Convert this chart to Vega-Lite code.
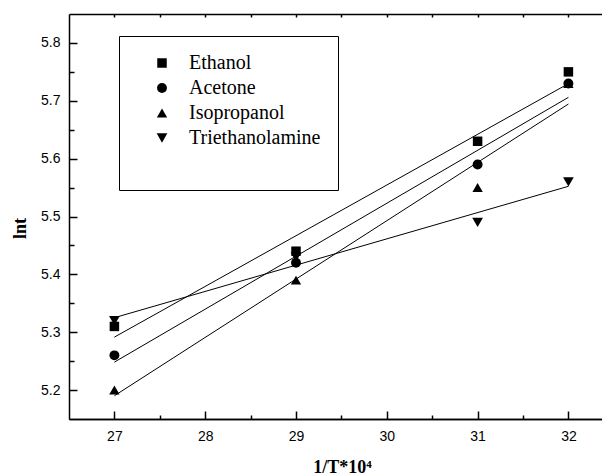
{
  "$schema": "https://vega.github.io/schema/vega-lite/v6.json",
  "width": 536,
  "height": 405,
  "autosize": {"type": "none"},
  "padding": {"left": 69, "top": 14, "right": -3, "bottom": 56},
  "background": "white",
  "view": {"stroke": "transparent", "strokeWidth": 0},
  "config": {
    "view": {"stroke": "transparent", "strokeWidth": 0},
    "axis": {"grid": false, "domainColor": "black", "tickColor": "black", "labelColor": "black", "titleColor": "black", "domainWidth": 1.5, "tickWidth": 1.5, "labelFont": "Liberation Sans", "labelFontSize": 14, "titleFont": "Liberation Serif", "titleFontWeight": "bold", "titleFontSize": 18},
    "axisRight": {"domain": false, "ticks": false, "labels": false}
  },
  "data": {
    "values": [
      {"series": "Ethanol", "x": 27, "lnt": 5.31},
      {"series": "Ethanol", "x": 29, "lnt": 5.44},
      {"series": "Ethanol", "x": 31, "lnt": 5.63},
      {"series": "Ethanol", "x": 32, "lnt": 5.75},
      {"series": "Acetone", "x": 27, "lnt": 5.26},
      {"series": "Acetone", "x": 29, "lnt": 5.42},
      {"series": "Acetone", "x": 31, "lnt": 5.59},
      {"series": "Acetone", "x": 32, "lnt": 5.73},
      {"series": "Isopropanol", "x": 27, "lnt": 5.20},
      {"series": "Isopropanol", "x": 29, "lnt": 5.39},
      {"series": "Isopropanol", "x": 31, "lnt": 5.55},
      {"series": "Isopropanol", "x": 32, "lnt": 5.73},
      {"series": "Triethanolamine", "x": 27, "lnt": 5.32},
      {"series": "Triethanolamine", "x": 29, "lnt": 5.43},
      {"series": "Triethanolamine", "x": 31, "lnt": 5.49},
      {"series": "Triethanolamine", "x": 32, "lnt": 5.56}
    ]
  },
  "layer": [
    {
      "transform": [{"regression": "lnt", "on": "x", "groupby": ["series"]}],
      "mark": {"type": "line", "color": "black", "strokeWidth": 1},
      "encoding": {
        "x": {
          "field": "x", "type": "quantitative",
          "scale": {"domain": [26.5, 32.403], "nice": false, "zero": false},
          "axis": {"orient": "top", "values": [27, 27.5, 28, 28.5, 29, 29.5, 30, 30.5, 31, 31.5, 32], "tickSize": -3, "labels": false, "title": null}
        },
        "y": {
          "field": "lnt", "type": "quantitative",
          "scale": {"domain": [5.15, 5.85], "nice": false, "zero": false},
          "axis": {"orient": "left", "values": [5.25, 5.35, 5.45, 5.55, 5.65, 5.75], "tickSize": -5, "labels": false, "domain": false, "title": null}
        },
        "detail": {"field": "series"}
      }
    },
    {
      "transform": [{"filter": {"field": "series", "oneOf": ["Ethanol", "Acetone"]}}],
      "mark": {"type": "point", "filled": true, "color": "black", "opacity": 1},
      "encoding": {
        "x": {
          "field": "x", "type": "quantitative",
          "scale": {"domain": [26.5, 32.403], "nice": false, "zero": false},
          "axis": {
            "orient": "bottom",
            "values": [27, 28, 29, 30, 31, 32],
            "tickSize": -8,
            "labelPadding": 18,
            "title": "1/T*10⁴",
            "titleX": 273,
            "titleY": 53,
            "titleAlign": "center",
            "titleBaseline": "alphabetic"
          }
        },
        "y": {
          "field": "lnt", "type": "quantitative",
          "scale": {"domain": [5.15, 5.85], "nice": false, "zero": false},
          "axis": {
            "orient": "left",
            "values": [5.2, 5.3, 5.4, 5.5, 5.6, 5.7, 5.8],
            "format": ".1f",
            "tickSize": -8,
            "labelPadding": 17,
            "title": "lnt",
            "titleAngle": 270,
            "titleX": -44,
            "titleY": 214,
            "titleAlign": "center",
            "titleBaseline": "alphabetic"
          }
        },
        "shape": {
          "field": "series", "type": "nominal",
          "scale": {"domain": ["Ethanol", "Acetone", "Isopropanol", "Triethanolamine"], "range": ["square", "circle", "triangle-up", "triangle-down"]},
          "legend": {
            "orient": "none", "legendX": 50, "legendY": 22,
            "strokeColor": "black", "fillColor": "white",
            "padding": 17, "symbolOffset": 16, "labelOffset": 17,
            "labelFont": "Liberation Serif", "labelFontSize": 20, "labelColor": "black",
            "rowPadding": 5,
            "symbolFillColor": "black", "symbolStrokeWidth": 0,
            "title": " ", "titleOrient": "bottom", "titleFontSize": 10, "titlePadding": 15
          }
        },
        "size": {
          "field": "series", "type": "nominal",
          "scale": {"domain": ["Ethanol", "Acetone", "Isopropanol", "Triethanolamine"], "range": [90, 115, 145, 145]}
        }
      }
    },
    {
      "transform": [{"filter": {"field": "series", "oneOf": ["Isopropanol", "Triethanolamine"]}}],
      "mark": {"type": "point", "filled": true, "color": "black", "opacity": 1},
      "encoding": {
        "x": {
          "field": "x", "type": "quantitative",
          "scale": {"domain": [26.5, 32.403], "nice": false, "zero": false},
          "axis": {"orient": "bottom", "values": [27.5, 28.5, 29.5, 30.5, 31.5], "tickSize": -4, "labels": false, "title": null}
        },
        "y": {
          "field": "lnt", "type": "quantitative",
          "scale": {"domain": [5.15, 5.85], "nice": false, "zero": false},
          "axis": null
        },
        "shape": {
          "field": "series", "type": "nominal",
          "scale": {"domain": ["Ethanol", "Acetone", "Isopropanol", "Triethanolamine"], "range": ["square", "circle", "triangle-up", "triangle-down"]},
          "legend": {
            "orient": "none", "legendX": 50, "legendY": 22,
            "strokeColor": "black", "fillColor": "white",
            "padding": 17, "symbolOffset": 16, "labelOffset": 17,
            "labelFont": "Liberation Serif", "labelFontSize": 20, "labelColor": "black",
            "rowPadding": 5,
            "symbolFillColor": "black", "symbolStrokeWidth": 0,
            "title": " ", "titleOrient": "bottom", "titleFontSize": 10, "titlePadding": 15
          }
        },
        "size": {
          "field": "series", "type": "nominal",
          "scale": {"domain": ["Ethanol", "Acetone", "Isopropanol", "Triethanolamine"], "range": [90, 115, 145, 145]}
        }
      }
    }
  ],
  "resolve": {"axis": {"x": "independent", "y": "independent"}}
}
